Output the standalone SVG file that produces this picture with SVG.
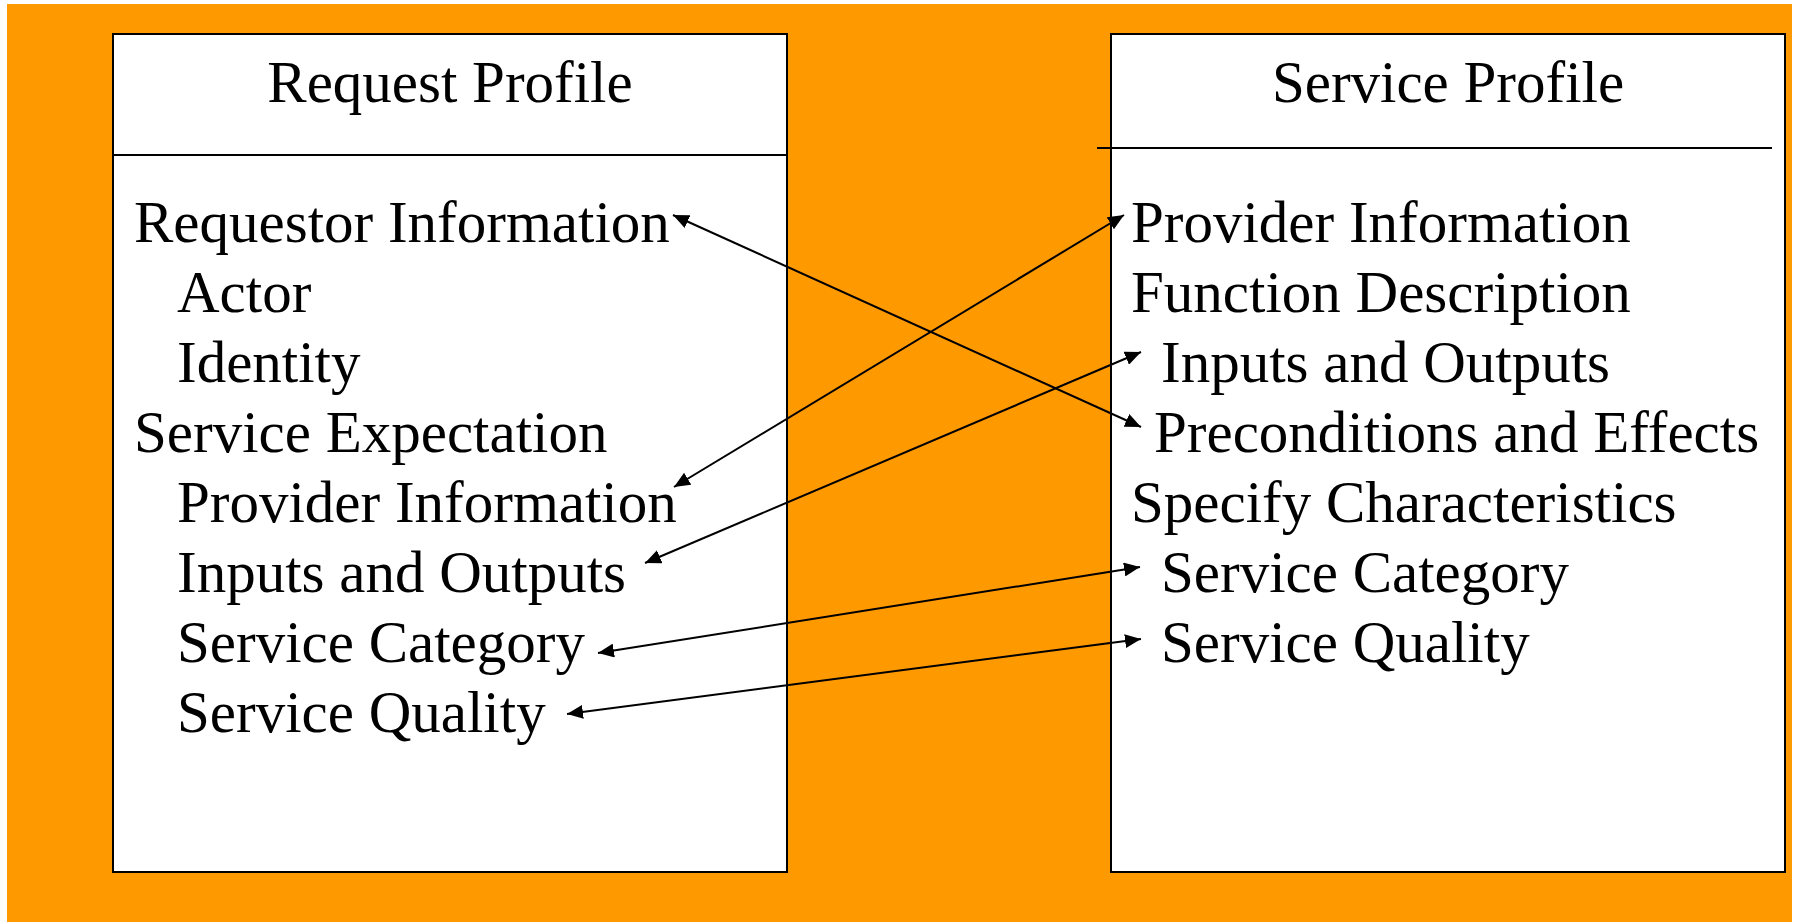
<svg xmlns="http://www.w3.org/2000/svg" width="1795" height="922" viewBox="0 0 1795 922">
  <style>
    .panel { fill: #ffffff; stroke: #000000; stroke-width: 2; }
    .rule { stroke: #000000; stroke-width: 2; }
    .title { font-family: "Liberation Serif", "Times New Roman", serif; font-size: 59px; fill: #000000; text-anchor: middle; }
    .item { font-family: "Liberation Serif", "Times New Roman", serif; font-size: 59px; fill: #000000; }
    .link { stroke: #000000; stroke-width: 2; fill: none; marker-start: url(#head); marker-end: url(#head); }
  </style>
  <defs>
    <marker id="head" markerUnits="userSpaceOnUse" markerWidth="17" markerHeight="14" refX="16" refY="7" orient="auto-start-reverse">
      <path d="M0,0 L16,7 L0,14 z" fill="#000000"/>
    </marker>
  </defs>

  <!-- page background -->
  <rect x="0" y="0" width="1795" height="922" fill="#ffffff"/>
  <rect x="7" y="4" width="1785" height="918" fill="#ff9900"/>

  <!-- request profile -->
  <g id="request-profile">
    <rect class="panel" x="113" y="34" width="674" height="838"/>
    <line class="rule" x1="113" y1="155" x2="787" y2="155"/>
    <text class="title" x="450" y="102">Request Profile</text>
    <text class="item" x="134" y="242">Requestor Information</text>
    <text class="item" x="177" y="312">Actor</text>
    <text class="item" x="177" y="382">Identity</text>
    <text class="item" x="134" y="452">Service Expectation</text>
    <text class="item" x="177" y="522">Provider Information</text>
    <text class="item" x="177" y="592">Inputs and Outputs</text>
    <text class="item" x="177" y="662">Service Category</text>
    <text class="item" x="177" y="732">Service Quality</text>
  </g>

  <!-- service profile -->
  <g id="service-profile">
    <rect class="panel" x="1111" y="34" width="674" height="838"/>
    <line class="rule" x1="1097" y1="148" x2="1772" y2="148"/>
    <text class="title" x="1448" y="102">Service Profile</text>
    <text class="item" x="1131" y="242">Provider Information</text>
    <text class="item" x="1131" y="312">Function Description</text>
    <text class="item" x="1161" y="382">Inputs and Outputs</text>
    <text class="item" x="1154" y="452">Preconditions and Effects</text>
    <text class="item" x="1131" y="522">Specify Characteristics</text>
    <text class="item" x="1161" y="592">Service Category</text>
    <text class="item" x="1161" y="662">Service Quality</text>
  </g>

  <!-- correspondences between the two profiles -->
  <g id="connectors">
    <line class="link" x1="673" y1="215" x2="1141" y2="427"/>
    <line class="link" x1="674" y1="487" x2="1124" y2="215"/>
    <line class="link" x1="645" y1="563" x2="1141" y2="352"/>
    <line class="link" x1="598" y1="653" x2="1140" y2="567"/>
    <line class="link" x1="567" y1="714" x2="1141" y2="639"/>
  </g>
</svg>
